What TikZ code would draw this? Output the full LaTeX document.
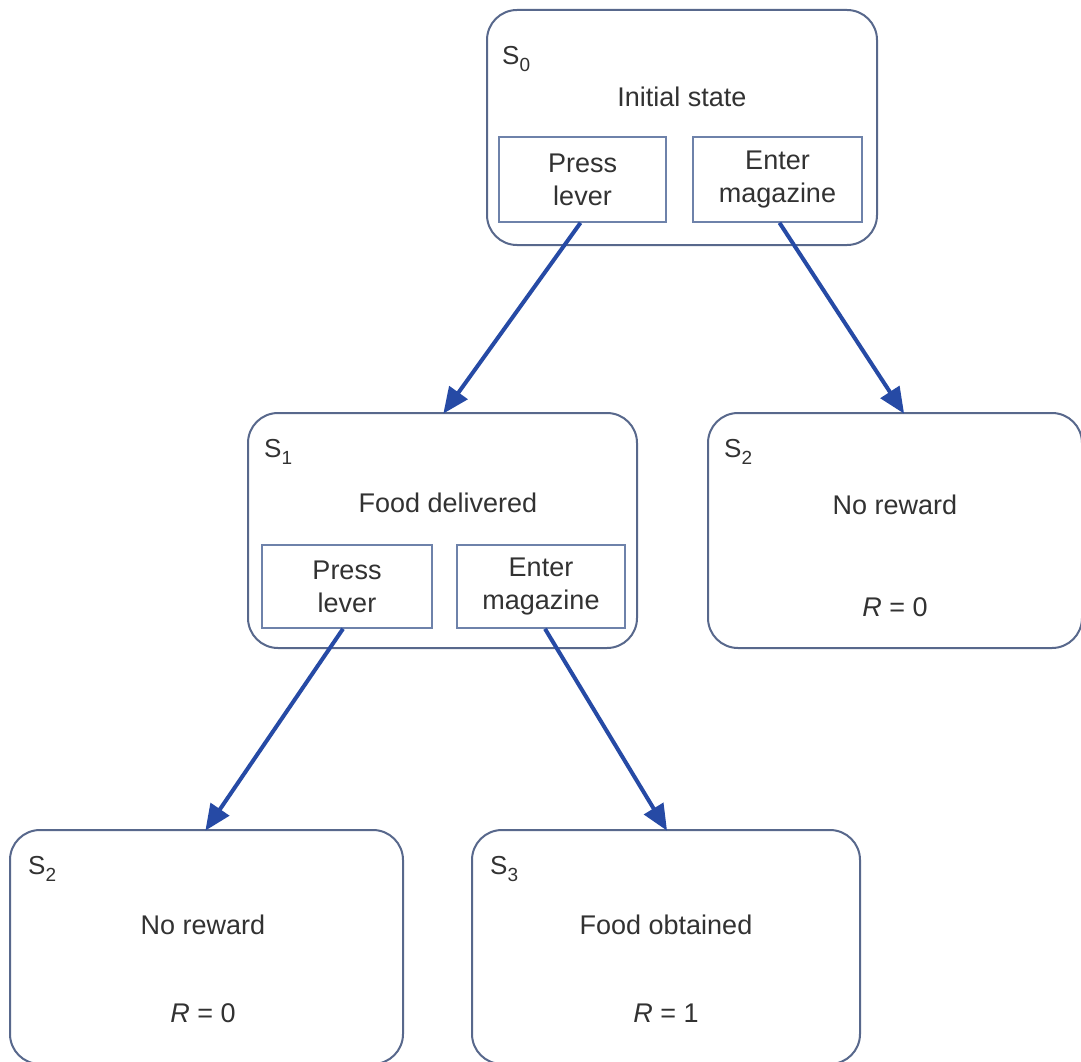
\documentclass[tikz,border=0pt]{standalone}
\usepackage{fontspec}
\setmainfont{Liberation Sans}
\usetikzlibrary{arrows.meta,calc}
\definecolor{boxline}{RGB}{88,104,140}
\definecolor{innerline}{RGB}{110,130,170}
\definecolor{arrowblue}{RGB}{38,74,165}
\definecolor{txt}{RGB}{50,50,50}
\newcommand{\stlabel}[1]{S\raisebox{-7pt}{\fontsize{19}{19}\selectfont #1}}
\tikzset{
  statebox/.style={draw=boxline, line width=2pt, rounded corners=30pt, rectangle, inner sep=0pt},
  actbox/.style={draw=innerline, line width=1.6pt, rectangle, inner sep=0pt, align=center, text=txt, font=\fontsize{27}{33}\selectfont},
  lbl/.style={text=txt, font=\fontsize{27}{33}\selectfont, inner sep=0pt},
  slbl/.style={text=txt, font=\fontsize{26}{30}\selectfont, inner sep=0pt, anchor=base west},
  trans/.style={draw=arrowblue, line width=4pt, -{Triangle[length=26pt,width=22pt]}, shorten >=-2pt}
}
\begin{document}
\begin{tikzpicture}[x=1pt,y=-1pt]
\clip (0,0) rectangle (1081,1062);
\fill[white] (0,0) rectangle (1081,1062);
% state boxes
\node[statebox, minimum width=390pt, minimum height=235pt] (s0) at (682,127.5) {};
\node[statebox, minimum width=389pt, minimum height=235pt] (s1) at (442.5,530.5) {};
\node[statebox, minimum width=374pt, minimum height=235pt] (s2r) at (895,530.5) {};
\node[statebox, minimum width=393pt, minimum height=234pt] (s2b) at (206.5,947) {};
\node[statebox, minimum width=388pt, minimum height=234pt] (s3) at (666,947) {};
% labels
\node[slbl] (s0l) at (502,65) {\stlabel{0}};
\node[lbl] (s0t) at (682,97) {Initial state};
\node[actbox, minimum width=167pt, minimum height=85pt] (pl0) at (582.5,179.5) {Press\\lever};
\node[actbox, minimum width=169pt, minimum height=85pt] (em0) at (777.5,179.5) {Enter\\magazine};
\node[slbl] (s1l) at (264,457) {\stlabel{1}};
\node[lbl] (s1t) at (448,503) {Food delivered};
\node[actbox, minimum width=170pt, minimum height=83pt] (pl1) at (347,586.5) {Press\\lever};
\node[actbox, minimum width=168pt, minimum height=83pt] (em1) at (541,586.5) {Enter\\magazine};
\node[slbl] (s2rl) at (724,457) {\stlabel{2}};
\node[lbl] (s2rt) at (895,505) {No reward};
\node[lbl] (s2rr) at (895,607) {\textit{R} = 0};
\node[slbl] (s2bl) at (28,874) {\stlabel{2}};
\node[lbl] (s2bt) at (203,925) {No reward};
\node[lbl] (s2br) at (203,1013) {\textit{R} = 0};
\node[slbl] (s3l) at (490,874) {\stlabel{3}};
\node[lbl] (s3t) at (666,925) {Food obtained};
\node[lbl] (s3r) at (666,1013) {\textit{R} = 1};
% transitions
\draw[trans] ($(pl0.south)+(-2,0)$) -- ($(s1.north)+(2,0)$);
\draw[trans] ($(em0.south)+(2,0)$) -- ($(s2r.north)+(8,0)$);
\draw[trans] ($(pl1.south)+(-4,0)$) -- (s2b.north);
\draw[trans] ($(em1.south)+(4,0)$) -- (s3.north);
\end{tikzpicture}
\end{document}
